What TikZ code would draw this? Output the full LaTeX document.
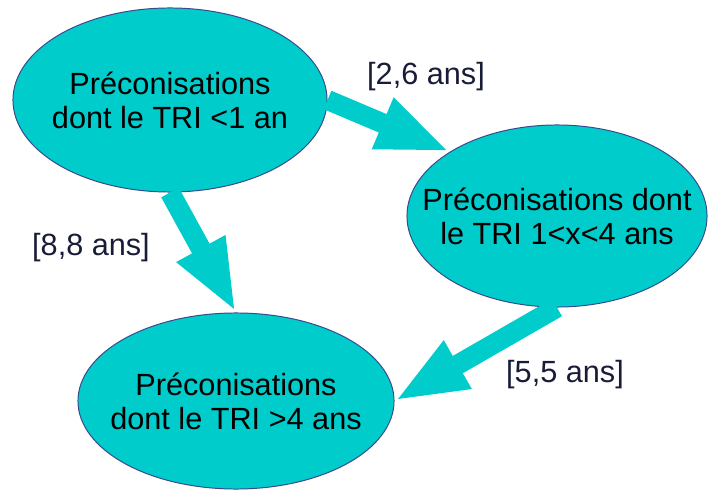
\documentclass[tikz,border=0pt]{standalone}
\usepackage{fontspec}
\setmainfont{Liberation Sans}
\usetikzlibrary{arrows.meta, shapes.geometric}

\definecolor{bubcyan}{RGB}{0,204,204}
\definecolor{bubedge}{RGB}{58,72,140}
\definecolor{labtext}{RGB}{25,28,55}

\begin{document}
\begin{tikzpicture}[x=0.025cm, y=-0.025cm,
  bubble/.style={ellipse, fill=bubcyan, draw=bubedge, line width=0.7pt, inner sep=0pt},
  bubtext/.style={align=center, inner sep=0pt, font=\fontsize{21.8}{24.2}\selectfont},
  lab/.style={inner sep=0pt, text=labtext, font=\fontsize{21.8}{24.2}\selectfont},
  flow/.style={draw=bubcyan, line width=0.5cm, -{Triangle[length=1.825cm, width=1.25cm]}}]
\useasboundingbox (0,0) rectangle (709,491);
% ellipses
\node [bubble, minimum width=7.85cm, minimum height=4.6cm] (e1) at (170,100) {};
\node [bubble, minimum width=7.5cm, minimum height=4.55cm] (e2) at (557,216) {};
\node [bubble, minimum width=7.9cm, minimum height=4.4cm] (e3) at (236,401) {};
\node [bubtext] (t1) at (e1) {Préconisations\\dont le TRI <1 an};
\node [bubtext] (t2) at (e2) {Préconisations dont\\le TRI 1<x<4 ans};
\node [bubtext] (t3) at (e3) {Préconisations\\dont le TRI >4 ans};
% arrows
\draw [flow] (e1.east) -- (e2.149);
\draw [flow] (e1.south) -- (e3.north);
\draw [flow] (e2.south) -- (e3.east);
% durations
\node [lab] (l1) at (426,77) {[2,6 ans]};
\node [lab] (l2) at (91,248) {[8,8 ans]};
\node [lab] (l3) at (565,375) {[5,5 ans]};
\end{tikzpicture}
\end{document}
